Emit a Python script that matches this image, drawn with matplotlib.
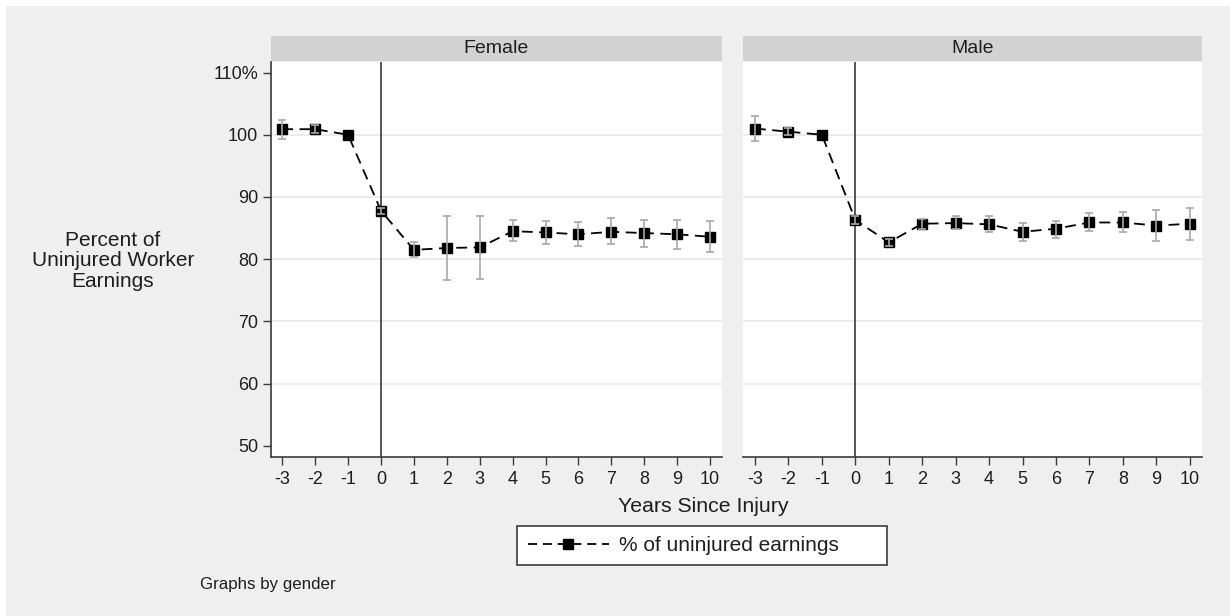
import numpy as np
import matplotlib
matplotlib.use("Agg")
import matplotlib.pyplot as plt
from matplotlib.lines import Line2D
from matplotlib.patches import Rectangle

plt.rcParams['font.family'] = ['Liberation Sans', 'DejaVu Sans']

# --- data: earnings relative to uninjured workers, with 95% CI ---
years = np.arange(-3, 11)

female_est = [100.9, 100.9, 100.0, 87.8, 81.5, 81.8, 81.9, 84.5, 84.3, 84.0, 84.4, 84.2, 84.0, 83.6]
female_lo = [99.4, 100.3, np.nan, 87.3, 80.3, 76.7, 76.8, 82.9, 82.5, 82.2, 82.5, 81.9, 81.6, 81.1]
female_hi = [102.4, 101.6, np.nan, 88.3, 82.8, 87.0, 87.0, 86.3, 86.1, 85.9, 86.6, 86.3, 86.3, 86.2]

male_est = [101.0, 100.5, 100.0, 86.3, 82.7, 85.7, 85.8, 85.6, 84.4, 84.9, 85.9, 85.9, 85.4, 85.7]
male_lo = [99.0, 100.0, np.nan, 85.7, 82.2, 84.9, 84.8, 84.4, 83.0, 83.4, 84.5, 84.3, 83.0, 83.1]
male_hi = [103.0, 101.1, np.nan, 86.9, 83.3, 86.5, 87.0, 86.9, 85.8, 86.2, 87.5, 87.6, 87.9, 88.2]

panels = ["Female", "Male"]
yticks = [50, 60, 70, 80, 90, 100, 110]
ytick_labels = ["50", "60", "70", "80", "90", "100", "110%"]

W, H = 1232, 616
BG = "#efefef"
STRIP = "#d2d2d2"
TXT = "#1e1e1e"
DASH = (0, (6, 3.6))

fig = plt.figure(figsize=(W / 100, H / 100), dpi=100, facecolor="white")
fig.add_artist(Rectangle((6 / W, 0), 1 - 8 / W, 1 - 6 / H, transform=fig.transFigure,
                         facecolor=BG, edgecolor="none", zorder=-10))

def px(x0, y0, x1, y1):
    return [x0 / W, 1 - y1 / H, (x1 - x0) / W, (y1 - y0) / H]

boxes = [(270.7, 62, 721.7, 457), (743.3, 62, 1201.5, 457)]
series = [(female_est, female_lo, female_hi), (male_est, male_lo, male_hi)]

for i, (name, box, (est, lo, hi)) in enumerate(zip(panels, boxes, series)):
    ax = fig.add_axes(px(*box))
    ax.set_facecolor("white")
    est = np.array(est)
    lo = np.array(lo)
    hi = np.array(hi)

    ax.plot(years, est, color="black", ls=DASH, lw=1.3,
            marker="s", ms=7.3, mfc="black", mec="black", zorder=3)
    ax.errorbar(years, est, yerr=[est - lo, hi - est], fmt="none",
                ecolor="#a8a8a8", elinewidth=1.2, capsize=3.2, capthick=1.2, zorder=4)
    ax.axvline(0, color="#3a3a3a", lw=1.2, zorder=2)

    ax.set_xlim(-3.35, 10.35)
    ax.set_ylim(48.2, 111.7)
    ax.set_xticks(years)
    ax.set_xticklabels([str(y) for y in years])
    ax.set_yticks(yticks)
    for g in [60, 70, 80, 90, 100]:
        ax.axhline(g, color="#e6e6e6", lw=1.1, zorder=1)

    for s in ["top", "right"]:
        ax.spines[s].set_visible(False)
    ax.spines["bottom"].set_color("#3a3a3a")
    ax.spines["bottom"].set_linewidth(1.2)
    if i == 0:
        ax.spines["left"].set_color("#3a3a3a")
        ax.spines["left"].set_linewidth(1.2)
        ax.set_yticklabels(ytick_labels)
        ax.tick_params(axis="y", length=6, width=1, color="#3a3a3a",
                       labelsize=13, labelcolor=TXT, pad=3)
    else:
        ax.spines["left"].set_visible(False)
        ax.tick_params(axis="y", left=False, labelleft=False)
    ax.tick_params(axis="x", length=6, width=1, color="#3a3a3a",
                   labelsize=13, labelcolor=TXT, pad=4)

    # panel header strip
    sx0, _, sx1, _ = box
    fig.add_artist(Rectangle((sx0 / W, 1 - 61 / H), (sx1 - sx0) / W, 25 / H,
                             transform=fig.transFigure, facecolor=STRIP, edgecolor="none"))
    fig.text((sx0 + sx1) / 2 / W, 1 - 48.5 / H, name, ha="center", va="center",
             fontsize=14, color=TXT)

fig.text(113 / W, 1 - 261 / H, "Percent of\nUninjured Worker\nEarnings", ha="center",
         va="center", fontsize=15, color=TXT, linespacing=1.1)
fig.text(703 / W, 1 - 507 / H, "Years Since Injury", ha="center", va="center",
         fontsize=15.3, color=TXT)
fig.text(200 / W, 1 - 585 / H, "Graphs by gender", ha="left", va="center",
         fontsize=12.2, color=TXT)

# legend box
fig.add_artist(Rectangle((517 / W, 1 - 565 / H), 370 / W, 39 / H, transform=fig.transFigure,
                         facecolor="white", edgecolor="#3a3a3a", lw=1.2, zorder=5))
handle = Line2D([], [], color="black", ls=(0, (5, 3.2)), lw=1.3, marker="s", ms=7.5,
                mfc="black", mec="black")
leg = fig.legend([handle], ["% of uninjured earnings"], loc="center left",
                 bbox_to_anchor=(513 / W, 1 - 545.5 / H), frameon=False, fontsize=15,
                 handlelength=3.9, handletextpad=0.5, borderpad=0.2)
leg.set_zorder(6)
for t in leg.get_texts():
    t.set_color(TXT)

fig.savefig("out.png", dpi=100, facecolor=fig.get_facecolor())
